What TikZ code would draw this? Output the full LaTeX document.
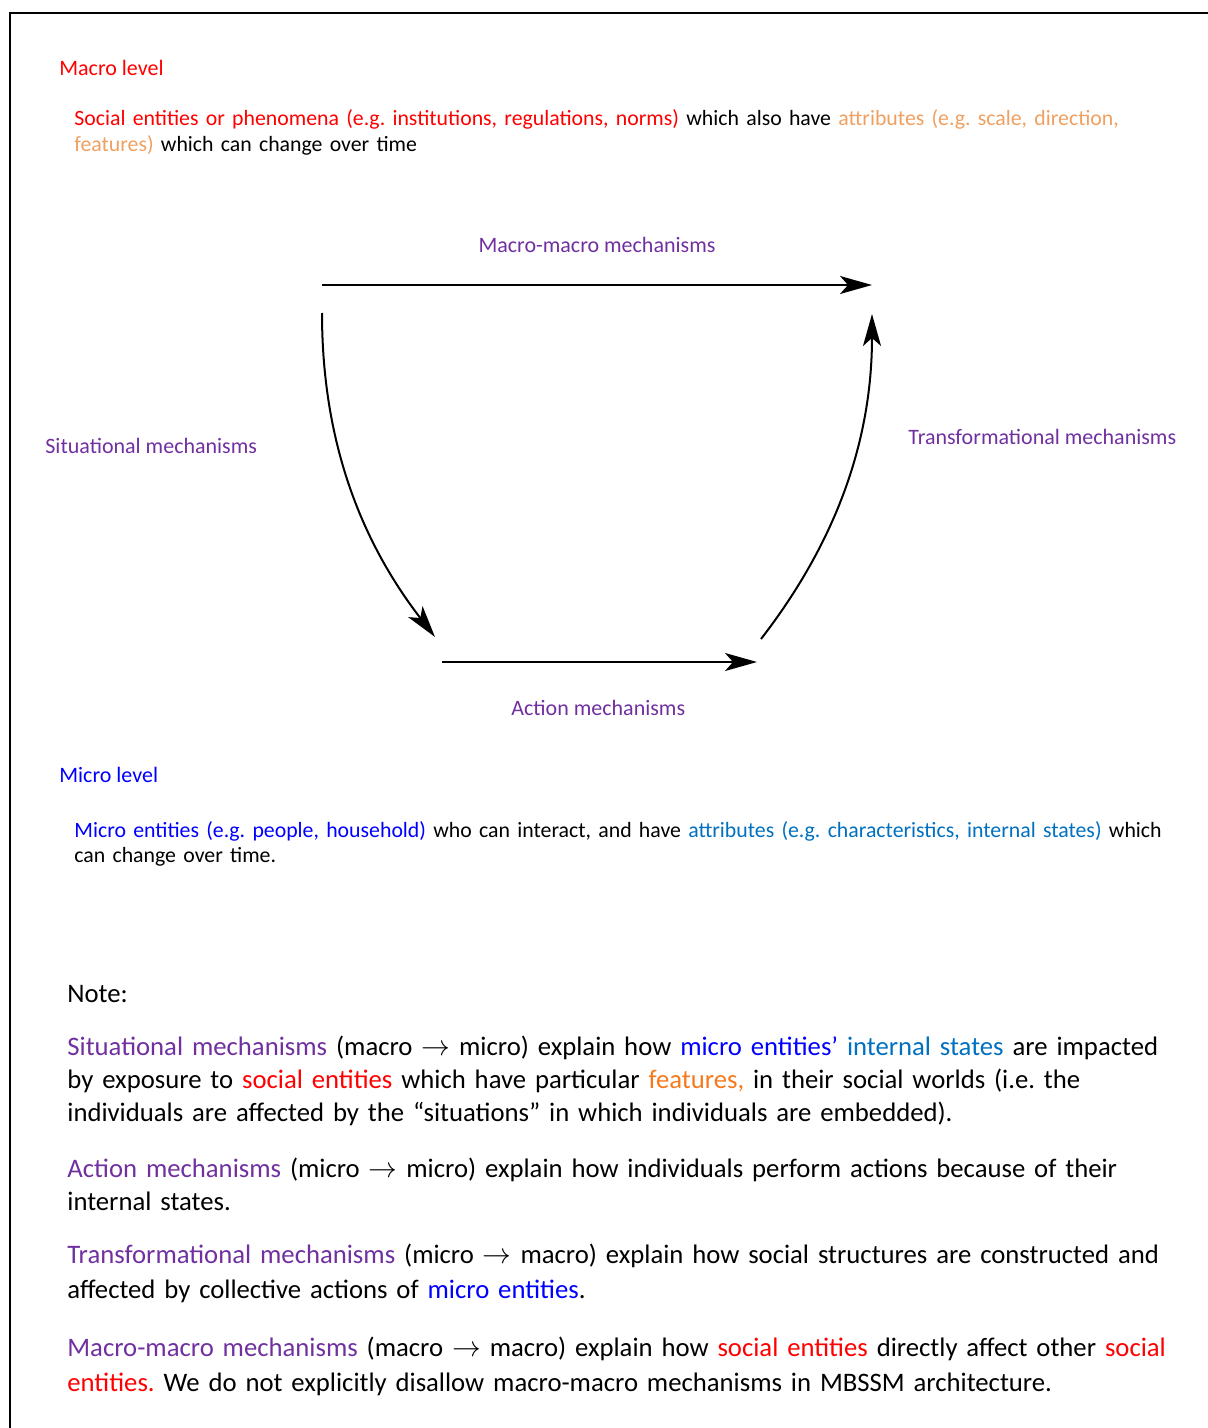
\documentclass[tikz,border=0pt]{standalone}
\usepackage{fontspec}
\setmainfont{Carlito}
\frenchspacing
\usetikzlibrary{arrows.meta}

\definecolor{mechpurple}{HTML}{7030A0}
\definecolor{macrored}{HTML}{FF0000}
\definecolor{attrorange}{HTML}{EFA060}
\definecolor{featorange}{HTML}{F57A1E}
\definecolor{microblue}{HTML}{0000FF}
\definecolor{attrblue}{HTML}{0070C0}

\newcommand{\mto}{\(\rightarrow\)}

\tikzset{
  lbl/.style={font=\fontsize{11}{13}\selectfont, inner sep=0pt, anchor=base west},
  para/.style={lbl, font=\fontsize{10.9}{12.9}\selectfont, text width=570pt, align=left},
  note/.style={font=\fontsize{13.35}{16.7}\selectfont, inner sep=0pt, anchor=base west, text width=570pt, align=left},
  mech/.style={-{Stealth[length=16pt, width=9pt, inset=4pt]}, line width=1pt},
}

\begin{document}
\begin{tikzpicture}[x=0.5pt, y=0.5pt]
    \useasboundingbox (0, 0) rectangle (1208, -1428);
    % frame
    \draw[line width=0.75pt] (10, -1428) -- (10, -13) -- (1208, -13);

    % macro level
    \node[lbl, text=macrored] (macro) at (59, -76) {Macro level};
    \node[para] (macrotext) at (74, -126) {\textcolor{macrored}{Social entities or phenomena (e.g. institutions, regulations, norms)} which also have \textcolor{attrorange}{attributes (e.g. scale, direction,}\\
        \textcolor{attrorange}{features)} which can change over time};

    % mechanism arrows
    \coordinate (mmstart) at (322, -285);
    \coordinate (mmend) at (872, -285);
    \coordinate (sitstart) at (322, -313);
    \coordinate (sitend) at (435, -637);
    \coordinate (actstart) at (442, -662);
    \coordinate (actend) at (757, -662);
    \coordinate (trstart) at (761, -639);
    \coordinate (trend) at (872, -314);

    \draw[mech] (mmstart) -- (mmend);
    \draw[mech] (sitstart) .. controls (322, -440) and (360, -540) .. (sitend);
    \draw[mech] (actstart) -- (actend);
    \draw[mech] (trstart) .. controls (836, -542) and (872, -441) .. (trend);

    \node[lbl, anchor=base, text=mechpurple] (mmlabel) at (597, -253) {Macro-macro mechanisms};
    \node[lbl, text=mechpurple] (sitlabel) at (45, -453) {Situational mechanisms};
    \node[lbl, text=mechpurple] (trlabel) at (908, -444) {Transformational mechanisms};
    \node[lbl, text=mechpurple] (actlabel) at (511, -715) {Action mechanisms};

    % micro level
    \node[lbl, text=microblue] (micro) at (59, -782) {Micro level};
    \node[para] (microtext) at (74, -837) {\textcolor{microblue}{Micro entities (e.g. people, household)} who can interact, and have \textcolor{attrblue}{attributes (e.g. characteristics, internal states)} which\\
        can change over time.};

    % notes
    \node[note] (notehead) at (67, -1002) {Note:};
    \node[note] (sitnote) at (67, -1055) {\textcolor{mechpurple}{Situational mechanisms} (macro \mto{} micro) explain how \textcolor{microblue}{micro entities’} \textcolor{attrblue}{internal states} are impacted\\
        by exposure to \textcolor{macrored}{social entities} which have particular \textcolor{featorange}{features,} in their social worlds (i.e. the\\
        individuals are affected by the “situations” in which individuals are embedded).};
    \node[note] (actnote) at (67, -1177) {\textcolor{mechpurple}{Action mechanisms} (micro \mto{} micro) explain how individuals perform actions because of their\\
        internal states.};
    \node[note, font=\fontsize{13.35}{17.5}\selectfont] (trnote) at (67, -1263) {\textcolor{mechpurple}{Transformational mechanisms} (micro \mto{} macro) explain how social structures are constructed and\\
        affected by collective actions of \textcolor{microblue}{micro entities}.};
    \node[note, font=\fontsize{13.35}{17.5}\selectfont] (mmnote) at (67, -1356) {\textcolor{mechpurple}{Macro-macro mechanisms} (macro \mto{} macro) explain how \textcolor{macrored}{social entities} directly affect other \textcolor{macrored}{social}\\
        \textcolor{macrored}{entities.} We do not explicitly disallow macro-macro mechanisms in MBSSM architecture.};
\end{tikzpicture}
\end{document}
